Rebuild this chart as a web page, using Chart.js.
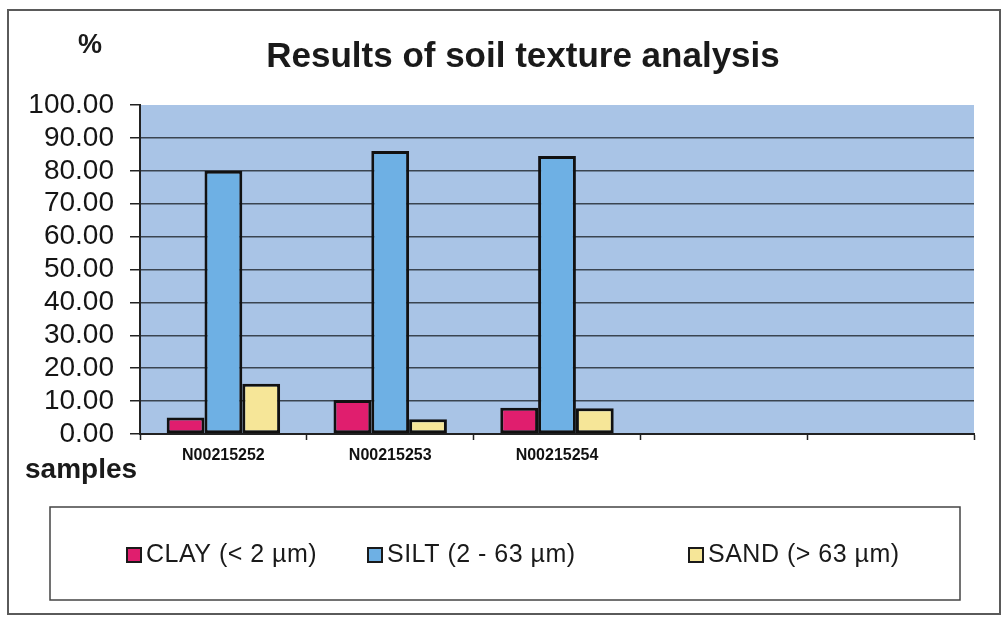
<!DOCTYPE html>
<html>
<head>
<meta charset="utf-8">
<title>Soil texture</title>
<script src="https://cdn.jsdelivr.net/npm/chart.js@4.4.1/dist/chart.umd.min.js"></script>
<style>
  html, body { margin: 0; padding: 0; background: #fff; }
  #wrap { width: 1007px; height: 619px; }
</style>
</head>
<body>
<div id="wrap"><canvas id="soilChart" width="1007" height="619"></canvas></div>
<script>
// sample ids on the x axis (two empty slots on the right)
const samples = ['N00215252', 'N00215253', 'N00215254', '', ''];

// fractions in %
const clay = [5.0, 10.3, 8.0, null, null];
const silt = [80.0, 86.0, 84.5, null, null];
const sand = [15.3, 4.5, 7.8, null, null];

const seriesNames = ['CLAY (< 2 µm)', 'SILT (2 - 63 µm)', 'SAND (> 63 µm)'];
const seriesColors = ['#e01e6e', '#6eb0e4', '#f6e698'];

const FONT = "'Liberation Sans', Arial, sans-serif";

// plot background, outer frame, headings and the boxed legend
const decorations = {
    id: 'decorations',
    beforeDraw(chart) {
        let ctx = chart.ctx;
        let a = chart.chartArea;
        ctx.save();
        ctx.fillStyle = '#ffffff';
        ctx.fillRect(0, 0, chart.width, chart.height);
        ctx.fillStyle = '#a9c4e6';
        ctx.fillRect(a.left, a.top, a.right - a.left, a.bottom - a.top);
        ctx.restore();
    },
    afterDraw(chart) {
        let ctx = chart.ctx;
        ctx.save();

        ctx.strokeStyle = '#5a5a5a';
        ctx.lineWidth = 2;
        ctx.strokeRect(8, 10, 992, 604);

        ctx.fillStyle = '#1a1a1a';
        ctx.textBaseline = 'alphabetic';
        ctx.textAlign = 'center';
        ctx.font = 'bold 35px ' + FONT;
        ctx.fillText('Results of soil texture analysis', 523, 67);

        ctx.font = 'bold 27px ' + FONT;
        ctx.fillText('%', 90, 53);

        ctx.textAlign = 'left';
        ctx.font = 'bold 28px ' + FONT;
        ctx.fillText('samples', 25, 478);

        // legend
        ctx.strokeStyle = '#444';
        ctx.lineWidth = 1.5;
        ctx.strokeRect(50, 507, 910, 93);

        let cols = [127, 368, 689];
        ctx.font = '25px ' + FONT;
        ctx.letterSpacing = '0.5px';
        ctx.textBaseline = 'middle';
        chart.data.datasets.forEach(function (ds, i) {
            let x = cols[i];
            ctx.fillStyle = ds.backgroundColor;
            ctx.fillRect(x, 548, 14, 14);
            ctx.strokeStyle = '#1a1a1a';
            ctx.lineWidth = 2;
            ctx.strokeRect(x, 548, 14, 14);
            ctx.fillStyle = '#1a1a1a';
            ctx.fillText(ds.label, x + 19, 555);
        });
        ctx.restore();
    }
};

function makeDataset(label, values, color) {
    return {
        label: label,
        data: values,
        backgroundColor: color,
        borderColor: '#111111',
        borderWidth: 3,
        borderSkipped: false,
        categoryPercentage: 0.68,
        barPercentage: 1.0
    };
}

let ctx = document.getElementById('soilChart').getContext('2d');
new Chart(ctx, {
    type: 'bar',
    data: {
        labels: samples,
        datasets: [
            makeDataset(seriesNames[0], clay, seriesColors[0]),
            makeDataset(seriesNames[1], silt, seriesColors[1]),
            makeDataset(seriesNames[2], sand, seriesColors[2])
        ]
    },
    options: {
        responsive: false,
        animation: false,
        devicePixelRatio: 1,
        layout: {
            padding: { left: 0, top: 105, right: 33, bottom: 145 }
        },
        plugins: {
            legend: { display: false },
            title: { display: false },
            tooltip: { enabled: false }
        },
        scales: {
            x: {
                afterFit: function (scale) { scale.height = 40; },
                grid: {
                    drawOnChartArea: false,
                    drawTicks: true,
                    tickLength: 6,
                    tickColor: '#222',
                    tickWidth: 1.5
                },
                border: { display: true, color: '#222', width: 2 },
                ticks: {
                    color: '#111',
                    font: { family: FONT, size: 16, weight: 'bold' },
                    padding: 6,
                    maxRotation: 0,
                    autoSkip: false
                }
            },
            y: {
                min: 0,
                max: 100,
                afterFit: function (scale) { scale.width = 140; },
                grid: {
                    color: function (c) {
                        return (c.tick && c.tick.value === 100) ? 'rgba(0,0,0,0)' : '#3a4450';
                    },
                    lineWidth: 1.5,
                    drawTicks: true,
                    tickLength: 10,
                    tickColor: '#222'
                },
                border: { display: true, color: '#222', width: 2 },
                ticks: {
                    stepSize: 10,
                    autoSkip: false,
                    color: '#151515',
                    padding: 16,
                    font: { family: FONT, size: 28, lineHeight: 1 },
                    callback: function (v) { return Number(v).toFixed(2); }
                }
            }
        }
    },
    plugins: [decorations]
});
</script>
</body>
</html>
